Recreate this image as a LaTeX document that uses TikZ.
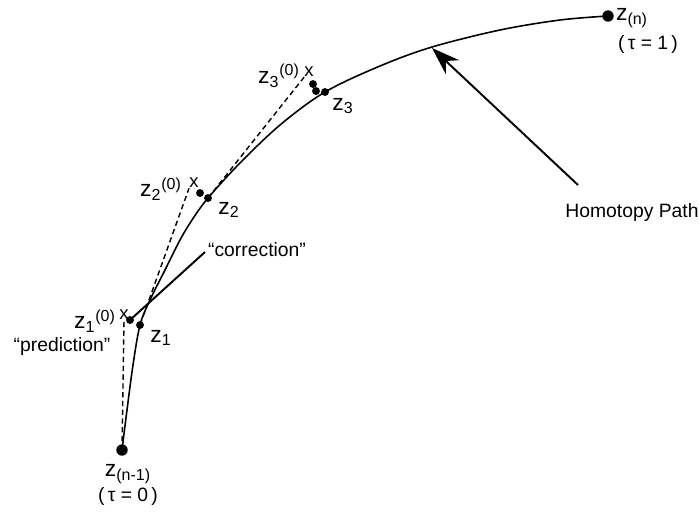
\documentclass[tikz,border=0pt]{standalone}
\usepackage{fontspec}
\setmainfont{Liberation Sans}
\usetikzlibrary{arrows.meta}
\begin{document}
\begin{tikzpicture}[x=0.02cm,y=-0.02cm,
  curve/.style={line width=0.9pt},
  dashline/.style={line width=0.8pt,dash pattern=on 3pt off 2pt},
  lbl/.style={inner sep=0pt,font=\fontsize{11}{13}\selectfont},
  zlbl/.style={inner sep=0pt,font=\fontsize{13}{15}\selectfont},
  bigdot/.style={circle,fill=black,inner sep=0pt,minimum size=6.5pt},
  smalldot/.style={circle,fill=black,inner sep=0pt,minimum size=4.5pt},
  xmark/.style={inner sep=0pt,font=\fontsize{10.5}{12}\selectfont}]
\useasboundingbox (0,0) rectangle (699,512);
% points
\node[bigdot] (zs) at (122,450) {};
\node[bigdot] (ze) at (608,16) {};
\node[smalldot] (z1) at (140,325) {};
\node[smalldot] (z2) at (208,198) {};
\node[smalldot] (z3) at (325,92) {};
\node[smalldot] (c1) at (130,320) {};
\node[smalldot] (c2) at (200,193) {};
\node[smalldot] (c3a) at (313,84) {};
\node[smalldot] (c3b) at (316,91) {};
\node[xmark] (x1) at (124,315) {x};
\node[xmark] (x2) at (194,183) {x};
\node[xmark] (x3) at (309,72) {x};
\coordinate (k) at (205,252);
\coordinate (a0) at (578,185);
\coordinate (a1) at (432,48);
% homotopy path
\draw[curve] plot[smooth,tension=0.55] coordinates {(122,450) (127,410) (133,365) (140,325) (150,300) (165,270) (180,240) (192,220) (208,198) (240,163) (280,125) (325,92) (380,66) (432,47) (500,30) (560,20) (608,16)};
% predictions
\draw[dashline] (zs.center) -- (x1.south);
\draw[dashline] (z1.center) -- (x2.south west);
\draw[dashline] (z2.center) -- (x3.south west);
% correction pointer
\draw[line width=1.1pt] (c1.center) -- (k);
% homotopy path arrow
\draw[line width=1.1pt,-{Stealth[length=16pt,width=11pt]}] (a0) -- (a1);
% labels
\node[zlbl] (lzs) at (128,474) {z\textsubscript{(n-1)}};
\node[lbl] (lt0) at (128,496) {(\,τ = 0\,)};
\node[zlbl] (lze) at (632,18) {z\textsubscript{(n)}};
\node[lbl] (lt1) at (648,44) {(\,τ = 1\,)};
\node[zlbl] (lx3) at (279,76) {z\textsubscript{3}\textsuperscript{(0)}};
\node[zlbl] (lz3) at (343,106) {z\textsubscript{3}};
\node[zlbl] (lx2) at (161,189) {z\textsubscript{2}\textsuperscript{(0)}};
\node[zlbl] (lz2) at (229,210) {z\textsubscript{2}};
\node[zlbl] (lx1) at (95,321) {z\textsubscript{1}\textsuperscript{(0)}};
\node[zlbl] (lz1) at (161,338) {z\textsubscript{1}};
\node[lbl] (pred) at (62,346) {“prediction”};
\node[lbl] (corr) at (257,250) {“correction”};
\node[lbl] (hp) at (632,212) {Homotopy Path};
\end{tikzpicture}
\end{document}
